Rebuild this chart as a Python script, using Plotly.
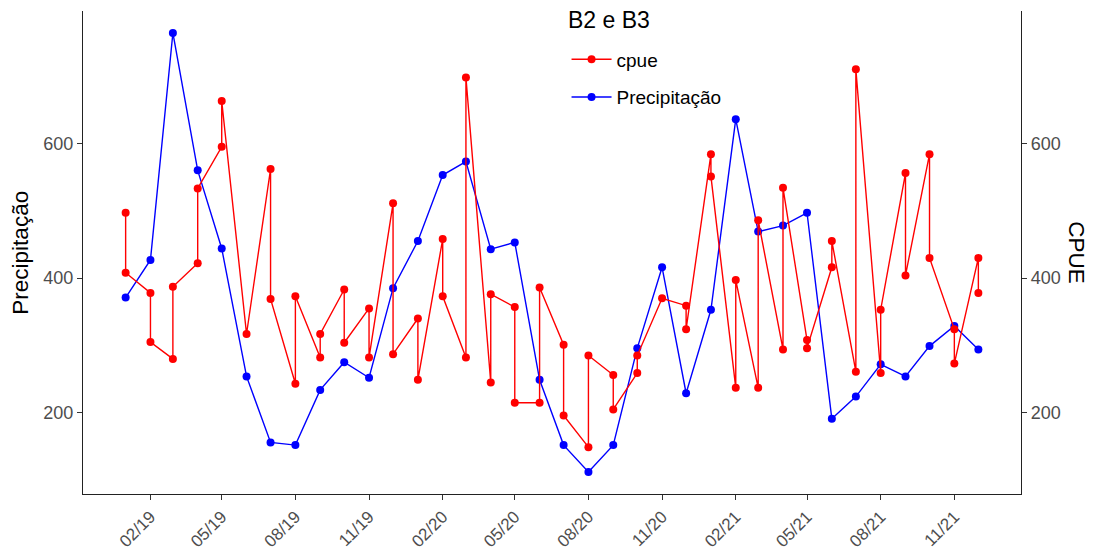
import plotly.graph_objects as go
import pandas as pd

# ---- data ----
precip_dates = pd.date_range("2019-01-01", "2021-12-01", freq="MS").strftime("%Y-%m-%d").tolist()
precip_values = [371, 427, 764, 560, 444, 254, 156, 152, 234, 275, 252, 385,
                 455, 553, 573, 443, 453, 249, 152, 112, 152, 296, 416, 229,
                 353, 636, 469, 478, 497, 191, 224, 272, 254, 299, 329, 294]

cpue_dates = [
    "2019-01-01", "2019-01-01", "2019-02-01", "2019-02-01", "2019-03-01", "2019-03-01",
    "2019-04-01", "2019-04-01", "2019-05-01", "2019-05-01", "2019-06-01",
    "2019-07-01", "2019-07-01", "2019-08-01", "2019-08-01", "2019-09-01", "2019-09-01",
    "2019-10-01", "2019-10-01", "2019-11-01", "2019-11-01", "2019-12-01", "2019-12-01",
    "2020-01-01", "2020-01-01", "2020-02-01", "2020-02-01", "2020-03-01", "2020-03-01",
    "2020-04-01", "2020-04-01", "2020-05-01", "2020-05-01", "2020-06-01", "2020-06-01",
    "2020-07-01", "2020-07-01", "2020-08-01", "2020-08-01", "2020-09-01", "2020-09-01",
    "2020-10-01", "2020-10-01", "2020-11-01", "2020-12-01", "2020-12-01",
    "2021-01-01", "2021-01-01", "2021-02-01", "2021-02-01", "2021-03-01", "2021-03-01",
    "2021-04-01", "2021-04-01", "2021-05-01", "2021-05-01", "2021-06-01", "2021-06-01",
    "2021-07-01", "2021-07-01", "2021-08-01", "2021-08-01", "2021-09-01", "2021-09-01",
    "2021-10-01", "2021-10-01", "2021-11-01", "2021-11-01", "2021-12-01", "2021-12-01",
]
cpue_values = [
    497, 408, 378, 305, 280, 387,
    422, 533, 595, 663, 317,
    562, 369, 243, 373, 282, 317,
    383, 304, 355, 282, 511, 287,
    340, 249, 458, 373, 282, 698,
    245, 376, 357, 215, 215, 386,
    301, 196, 149, 285, 256, 205,
    259, 285, 370, 359, 324,
    584, 551, 237, 397, 237, 486,
    294, 534, 308, 296, 416, 455,
    261, 710, 259, 353, 556, 404,
    584, 430, 324, 273, 430, 378,
]

tick_dates = ["2019-02-01", "2019-05-01", "2019-08-01", "2019-11-01",
              "2020-02-01", "2020-05-01", "2020-08-01", "2020-11-01",
              "2021-02-01", "2021-05-01", "2021-08-01", "2021-11-01"]
tick_labels = ["02/19", "05/19", "08/19", "11/19", "02/20", "05/20",
               "08/20", "11/20", "02/21", "05/21", "08/21", "11/21"]
y_ticks = [200, 400, 600]

# ---- scales (ggplot-like 5% expansion) ----
all_dates = pd.to_datetime(precip_dates + cpue_dates)
d0, d1 = all_dates.min(), all_dates.max()
dpad = (d1 - d0) * 0.05
x_range = [(d0 - dpad).strftime("%Y-%m-%d %H:%M"), (d1 + dpad).strftime("%Y-%m-%d %H:%M")]
all_vals = precip_values + cpue_values
vlo, vhi = min(all_vals), max(all_vals)
vpad = (vhi - vlo) * 0.05
y_range = [vlo - vpad, vhi + vpad]

FONT = "Liberation Sans, Arial, sans-serif"
TICK_COLOR = "#4D4D4D"

fig = go.Figure()
fig.add_trace(go.Scatter(
    x=cpue_dates, y=cpue_values, name="cpue", mode="lines+markers",
    line=dict(color="#FF0000", width=1.4), marker=dict(color="#FF0000", size=8),
    yaxis="y2", legendgroup="a",
))
fig.add_trace(go.Scatter(
    x=precip_dates, y=precip_values, name="Precipitação", mode="lines+markers",
    line=dict(color="#0000FF", width=1.4), marker=dict(color="#0000FF", size=8),
    yaxis="y", legendgroup="b",
))

axis_common = dict(
    showgrid=False, zeroline=False, showline=True, linecolor="#222222", linewidth=1.3,
    ticks="outside", ticklen=5, tickwidth=1.3, tickcolor="#333333",
    tickfont=dict(family=FONT, size=18, color=TICK_COLOR), automargin=False,
)
x_axis_style = dict(axis_common, tickfont=dict(family=FONT, size=17, color=TICK_COLOR))

fig.update_layout(
    width=1096, height=551, autosize=False,
    margin=dict(l=83, r=75, t=11, b=57, pad=0),
    paper_bgcolor="white", plot_bgcolor="white",
    font=dict(family=FONT, color="black"),
    xaxis=dict(range=x_range, type="date", tickvals=tick_dates, ticktext=tick_labels,
               tickangle=-45, **x_axis_style),
    yaxis=dict(range=y_range, tickvals=y_ticks, side="left", **axis_common),
    yaxis2=dict(range=y_range, tickvals=y_ticks, side="right", overlaying="y",
                **axis_common),
    showlegend=True,
    legend=dict(
        font=dict(family=FONT, size=19, color="black"),
        x=0.5155, xanchor="left", y=0.939, yanchor="top",
        bgcolor="rgba(0,0,0,0)", tracegroupgap=10, itemwidth=40,
    ),
    annotations=[
        dict(text="B2 e B3", xref="paper", yref="paper", x=(609 - 83) / 938,
             y=1 - (20 - 11) / 483, xanchor="center", yanchor="middle", showarrow=False,
             font=dict(family=FONT, size=23, color="black")),
        dict(text="Precipitação", xref="paper", yref="paper", x=-0.067, y=0.5,
             xanchor="center", yanchor="middle", textangle=-90, showarrow=False,
             font=dict(family=FONT, size=22.5, color="black")),
        dict(text="CPUE", xref="paper", yref="paper", x=1.059, y=0.5,
             xanchor="center", yanchor="middle", textangle=90, showarrow=False,
             font=dict(family=FONT, size=22.5, color="black")),
    ],
)

fig.write_html("out.html", config={"displayModeBar": False},
               post_script="document.body.style.margin='0';")
